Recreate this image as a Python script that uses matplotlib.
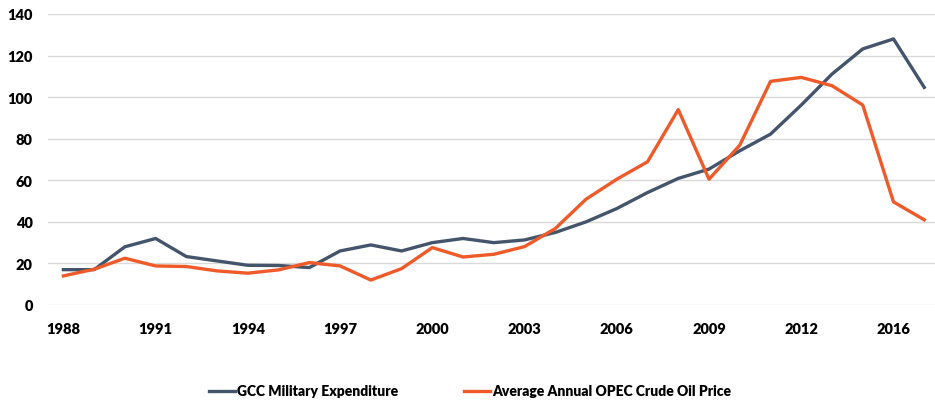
import matplotlib
matplotlib.use('Agg')
import matplotlib.pyplot as plt

years = list(range(1988, 2017))
tick_labels = ['1988', '1991', '1994', '1997', '2000', '2003', '2006', '2009', '2012', '2016']

gcc_military = [17, 17, 28, 32, 23.3, 21.2, 19.1, 19, 18, 26,
                28.9, 26, 30, 32, 30, 31.3, 34.9, 40, 46.4, 54.1,
                60.9, 65.4, 74.2, 82.2, 96.2, 111.1, 123.2, 128, 104.7]
opec_oil = [14, 17.2, 22.5, 18.8, 18.5, 16.4, 15.3, 16.9, 20.4, 18.8,
            12, 17.5, 27.6, 23.1, 24.4, 28.1, 36.8, 50.9, 60.5, 68.9,
            94, 60.5, 76.9, 107.6, 109.5, 105.5, 96.2, 49.6, 41]

BLUE = '#44546A'
ORANGE = '#EF5A2A'

plt.rcParams['font.family'] = ['Lato', 'DejaVu Sans']

fig = plt.figure(figsize=(9.35, 4.02), dpi=100)
ax = fig.add_axes([48 / 935, 1 - 306 / 402, 887 / 935, 291 / 402])

x = list(range(len(years)))
ax.plot(x, gcc_military, color=BLUE, lw=2.4, label='GCC Military Expenditure', solid_joinstyle='round')
ax.plot(x, opec_oil, color=ORANGE, lw=2.4, label='Average Annual OPEC Crude Oil Price', solid_joinstyle='round')

ax.set_xlim(-0.5, 28.35)
ax.set_ylim(0, 140)
ax.set_yticks(range(0, 141, 20))
ax.set_xticks(x[::3])
ax.set_xticklabels(tick_labels)
ax.grid(axis='y', color='#D9D9D9', lw=1)
ax.set_axisbelow(True)
for s in ax.spines.values():
  s.set_visible(False)
ax.tick_params(axis='both', length=0, labelsize=10.5)
ax.tick_params(axis='y', pad=11)
ax.tick_params(axis='x', pad=12)
for lab in ax.get_xticklabels() + ax.get_yticklabels():
  lab.set_fontweight('heavy')

fig.legend(loc='center', bbox_to_anchor=(470 / 935, 1 - 392 / 402), ncol=2, frameon=False,
           prop={'size': 10, 'weight': 'heavy'}, handlelength=1.9, handletextpad=0.15,
           columnspacing=4.7)

fig.savefig('out.png', dpi=100)
